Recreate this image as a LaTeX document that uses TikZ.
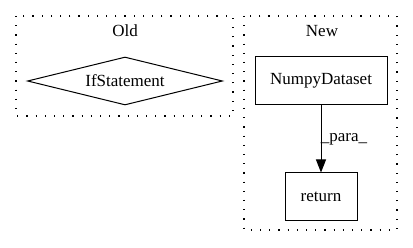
\documentclass[tikz,border=0pt]{standalone}
\usepackage{fontspec}
\setmainfont{Liberation Serif}
\usetikzlibrary{shapes.geometric,arrows.meta}
\begin{document}
\begin{tikzpicture}[x=1pt,y=-1pt,
  cluster/.style={draw, line width=1.2pt, dash pattern=on 1.2pt off 8pt},
  box/.style={draw, line width=1pt, rectangle, inner sep=0pt, font=\fontsize{17}{20}\selectfont},
  lbl/.style={font=\fontsize{17}{20}\selectfont},
  flow/.style={draw, line width=1pt, -{Triangle[length=13pt,width=10pt]}}]
  \useasboundingbox (0,0) rectangle (413,248);
  % clusters
  \draw[cluster] (16,16) rectangle (233,116);
  \node[lbl] (oldlbl) at (125,31) {Old};
  \draw[cluster] (244,16) rectangle (397,230);
  \node[lbl] (newlbl) at (322,31) {New};
  % old graph
  \node[box, diamond, aspect=4.06, minimum width=195pt, minimum height=48pt] (ifs) at (125,81) {IfStatement};
  % new graph
  \node[box, minimum width=132pt, minimum height=48pt] (np) at (321,81) {NumpyDataset};
  \node[box, minimum width=72pt, minimum height=48pt] (ret) at (321,197) {return};
  \draw[flow] (np) -- node[lbl, right, xshift=-4pt] (para) {\_para\_} (ret);
\end{tikzpicture}
\end{document}
